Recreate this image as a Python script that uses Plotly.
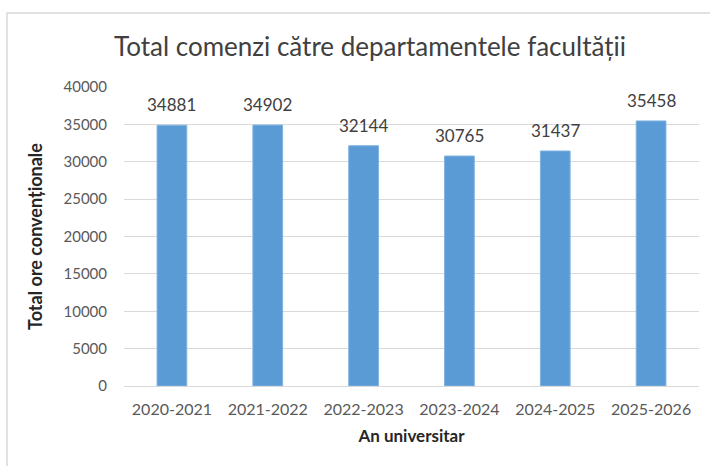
import plotly.graph_objects as go

# Academic years and total conventional hours ordered per year
years = ["2020-2021", "2021-2022", "2022-2023", "2023-2024", "2024-2025", "2025-2026"]
total_hours = [34881, 34902, 32144, 30765, 31437, 35458]
y_ticks = [0, 5000, 10000, 15000, 20000, 25000, 30000, 35000, 40000]
y_tick_labels = [str(v) for v in y_ticks]

FONT = "Lato"
BAR_COLOR = "#5B9BD5"

fig = go.Figure(
    go.Bar(
        x=years,
        y=total_hours,
        marker=dict(color=BAR_COLOR, line=dict(color="#7fb2e0", width=1)),
        width=0.31,
        hoverinfo="x+y",
    )
)

# value labels above each bar
for yr, val in zip(years, total_hours):
    fig.add_annotation(
        x=yr, y=val, text=str(val), showarrow=False,
        yanchor="bottom", yshift=8,
        font=dict(family=FONT, size=17, color="#404040"),
    )

W, H = 710, 466
L, R, T, B = 124, 11, 87, 80
pw, ph = W - L - R, H - T - B

# light frame around the chart area (top and left edges visible)
fig.add_shape(
    type="rect", xref="paper", yref="paper",
    x0=(7 - L) / pw, x1=(W - L + 20) / pw,
    y0=-(B + 20) / ph, y1=(H - B - 13) / ph,
    line=dict(color="#d9d9d9", width=1.5), fillcolor="rgba(0,0,0,0)",
    layer="below",
)

fig.update_layout(
    width=W, height=H,
    margin=dict(l=L, r=R, t=T, b=B),
    paper_bgcolor="white", plot_bgcolor="white",
    showlegend=False,
    bargap=0.69,
    title=dict(
        text="Total comenzi către departamentele facultății",
        x=370 / W, xanchor="center",
        y=1 - 47 / H, yanchor="middle", yref="container",
        font=dict(family=FONT, size=26, color="#404040"),
    ),
    xaxis=dict(
        title=dict(text="<b>An universitar</b>", standoff=12,
                   font=dict(family=FONT, size=17, color="#262626")),
        tickfont=dict(family=FONT, size=16, color="#595959"),
        showgrid=False, showline=True, linecolor="#d9d9d9", linewidth=1,
        ticks="", ticklabelstandoff=9,
    ),
    yaxis=dict(
        title=dict(text="<b>Total ore convenționale</b>", standoff=16,
                   font=dict(family=FONT, size=18, color="#262626")),
        range=[0, 40000], tickvals=y_ticks, ticktext=y_tick_labels,
        tickfont=dict(family=FONT, size=15, color="#595959"),
        showgrid=True, gridcolor="#d9d9d9", gridwidth=1,
        zeroline=True, zerolinecolor="#d9d9d9", zerolinewidth=1,
        ticks="", ticklabelstandoff=16,
    ),
)

fig.write_html("out.html")
